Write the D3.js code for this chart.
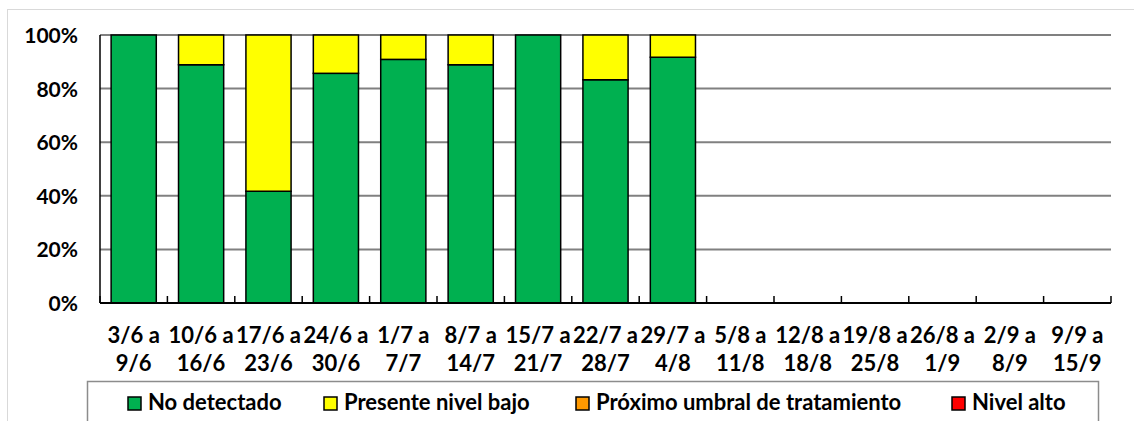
<!DOCTYPE html>
<html>
<head>
<meta charset="utf-8">
<script src="https://cdn.jsdelivr.net/npm/d3@7"></script>
<style>
  body { margin: 0; background: #fff; }
  text { font-family: Lato, "Open Sans", sans-serif; font-weight: bold; fill: #000; }
</style>
</head>
<body>
<svg id="canvas" width="1134" height="421"></svg>
<script>
// weeks (two-line labels)
const weekStart = ["3/6 a", "10/6 a", "17/6 a", "24/6 a", "1/7 a", "8/7 a", "15/7 a", "22/7 a",
  "29/7 a", "5/8 a", "12/8 a", "19/8 a", "26/8 a", "2/9 a", "9/9 a"];
const weekEnd = ["9/6", "16/6", "23/6", "30/6", "7/7", "14/7", "21/7", "28/7",
  "4/8", "11/8", "18/8", "25/8", "1/9", "8/9", "15/9"];

// percentages per series (empty weeks = 0)
const noDetectado = [100, 88.9, 41.7, 85.7, 90.9, 88.9, 100, 83.3, 91.7, 0, 0, 0, 0, 0, 0];
const presenteBajo = [0, 11.1, 58.3, 14.3, 9.1, 11.1, 0, 16.7, 8.3, 0, 0, 0, 0, 0, 0];
const proximoUmbral = [0, 0, 0, 0, 0, 0, 0, 0, 0, 0, 0, 0, 0, 0, 0];
const nivelAlto = [0, 0, 0, 0, 0, 0, 0, 0, 0, 0, 0, 0, 0, 0, 0];

const seriesNames = ["No detectado", "Presente nivel bajo", "Próximo umbral de tratamiento", "Nivel alto"];
const seriesColors = ["#00B050", "#FFFF00", "#FF9900", "#FF0000"];
const yTicks = [0, 20, 40, 60, 80, 100];

const svg = d3.select("#canvas");

// chart area border
svg.append("rect")
  .attr("x", 7.5).attr("y", 9.5)
  .attr("width", 1200).attr("height", 500)
  .attr("fill", "#fff")
  .attr("stroke", "#d9d9d9");

const margin = { left: 100, right: 1111, top: 35, bottom: 303 };

const x = d3.scaleBand()
  .domain(d3.range(weekStart.length))
  .range([margin.left, margin.right])
  .paddingInner(0.33)
  .paddingOuter(0.165);

const y = d3.scaleLinear().domain([0, 100]).range([margin.bottom, margin.top]);

// gridlines
svg.append("g")
  .selectAll("line")
  .data(yTicks.filter((d) => d > 0))
  .enter()
  .append("line")
  .attr("x1", margin.left)
  .attr("x2", margin.right)
  .attr("y1", (d) => y(d))
  .attr("y2", (d) => y(d))
  .attr("stroke", "#808080")
  .attr("stroke-width", 2);

// y labels
svg.append("g")
  .selectAll("text")
  .data(yTicks)
  .enter()
  .append("text")
  .attr("x", 78)
  .attr("y", (d) => y(d) + 8)
  .attr("text-anchor", "end")
  .attr("font-size", 21)
  .text((d) => d + "%");

// stacked bars
const table = weekStart.map((w, i) => ({
  i: i,
  a: noDetectado[i],
  b: presenteBajo[i],
  c: proximoUmbral[i],
  d: nivelAlto[i],
}));
const stack = d3.stack().keys(["a", "b", "c", "d"])(table);

svg.append("g")
  .selectAll("g")
  .data(stack)
  .enter()
  .append("g")
  .attr("fill", (s, k) => seriesColors[k])
  .selectAll("rect")
  .data((s) => s.filter((p) => p[1] - p[0] > 0))
  .enter()
  .append("rect")
  .attr("x", (p) => x(p.data.i))
  .attr("y", (p) => y(p[1]))
  .attr("width", x.bandwidth())
  .attr("height", (p) => y(p[0]) - y(p[1]))
  .attr("stroke", "#000")
  .attr("stroke-width", 1.5);

// axes lines
svg.append("line")
  .attr("x1", margin.left).attr("x2", margin.left)
  .attr("y1", margin.top).attr("y2", margin.bottom)
  .attr("stroke", "#000").attr("stroke-width", 1.5);
svg.append("line")
  .attr("x1", margin.left).attr("x2", margin.right)
  .attr("y1", margin.bottom).attr("y2", margin.bottom)
  .attr("stroke", "#000").attr("stroke-width", 2);

// inward ticks at category boundaries
svg.append("g")
  .selectAll("line")
  .data(d3.range(weekStart.length + 1))
  .enter()
  .append("line")
  .attr("x1", (i) => margin.left + i * x.step())
  .attr("x2", (i) => margin.left + i * x.step())
  .attr("y1", margin.bottom)
  .attr("y2", margin.bottom - 7)
  .attr("stroke", "#000")
  .attr("stroke-width", 1.5);

// category labels
const labels = svg.append("g")
  .selectAll("text")
  .data(weekStart)
  .enter()
  .append("text")
  .attr("text-anchor", "middle")
  .attr("font-size", 22);
labels.append("tspan")
  .attr("x", (d, i) => x(i) + x.bandwidth() / 2)
  .attr("y", 343)
  .text((d) => d);
labels.append("tspan")
  .attr("x", (d, i) => x(i) + x.bandwidth() / 2)
  .attr("y", 371)
  .text((d, i) => weekEnd[i]);

// legend
svg.append("rect")
  .attr("x", 87.5).attr("y", 381.5)
  .attr("width", 1011).attr("height", 60)
  .attr("fill", "#fff")
  .attr("stroke", "#8c8c8c")
  .attr("stroke-width", 1.5);

const legendX = [128, 324, 576, 952];
const legend = svg.append("g")
  .selectAll("g")
  .data(seriesNames)
  .enter()
  .append("g")
  .attr("transform", (d, i) => `translate(${legendX[i]},397)`);
legend.append("rect")
  .attr("width", 13).attr("height", 13)
  .attr("fill", (d, i) => seriesColors[i])
  .attr("stroke", "#000")
  .attr("stroke-width", 1.5);
legend.append("text")
  .attr("x", 20)
  .attr("y", 13)
  .attr("font-size", 22)
  .text((d) => d);
</script>
</body>
</html>
